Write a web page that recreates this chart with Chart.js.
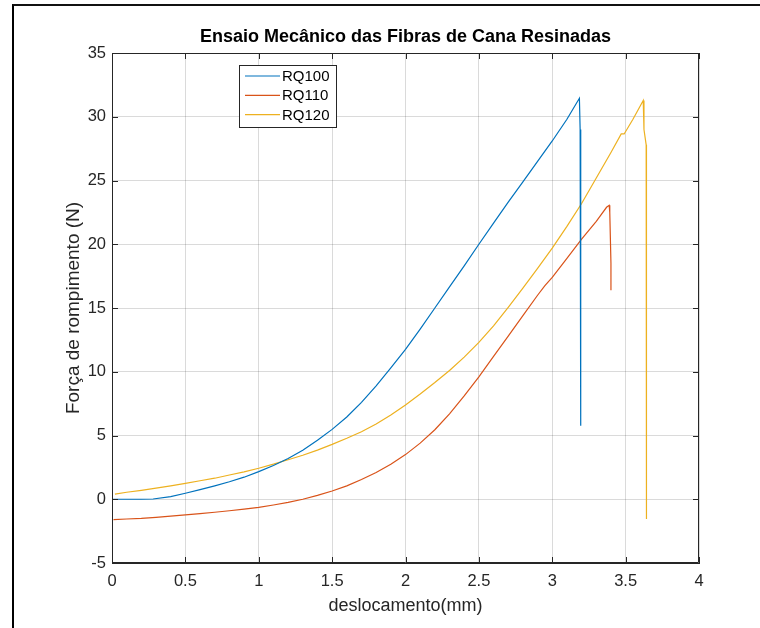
<!DOCTYPE html>
<html lang="pt">
<head>
    <meta charset="UTF-8">
    <title>Ensaio Mecânico das Fibras de Cana Resinadas</title>
    <style>
        html, body { margin: 0; padding: 0; background: #fff; }
        #wrap { position: relative; width: 760px; height: 628px; }
        #frame {
            position: absolute; left: 12px; top: 4px; right: 0; bottom: -4px;
            border-left: 2px solid #000; border-top: 2px solid #111;
            pointer-events: none;
        }
    </style>
</head>
<body>
    <div id="wrap">
        <canvas id="chart" width="760" height="628"></canvas>
        <div id="frame"></div>
    </div>

    <script src="https://cdn.jsdelivr.net/npm/chart.js"></script>
    <script>
        // data (deslocamento in mm, força in N)
        const chartTitle = 'Ensaio Mecânico das Fibras de Cana Resinadas';
        const seriesNames = ['RQ100', 'RQ110', 'RQ120'];

        const rq100X = [0, 0.1, 0.2, 0.28, 0.4, 0.5, 0.6, 0.7, 0.8, 0.9, 1.0, 1.1, 1.2, 1.3, 1.4, 1.5, 1.6, 1.7, 1.8, 1.9,
            2.0, 2.1, 2.2, 2.3, 2.4, 2.5, 2.6, 2.7, 2.8, 2.9, 3.0, 3.1, 3.185, 3.19, 3.194];
        const rq100Y = [0, 0, 0, 0.02, 0.2, 0.47, 0.75, 1.05, 1.37, 1.73, 2.17, 2.65, 3.2, 3.85, 4.62, 5.48, 6.45, 7.6, 8.9, 10.3,
            11.76, 13.35, 15.0, 16.65, 18.3, 20.0, 21.65, 23.3, 24.9, 26.5, 28.1, 29.8, 31.45, 29.0, 5.77];

        const rq110X = [0.01, 0.1, 0.2, 0.3, 0.4, 0.5, 0.6, 0.7, 0.8, 0.9, 1.0, 1.1, 1.2, 1.3, 1.4, 1.5, 1.6, 1.7, 1.8, 1.9,
            2.0, 2.1, 2.2, 2.3, 2.4, 2.5, 2.6, 2.7, 2.8, 2.9, 2.95, 3.0, 3.1, 3.2, 3.3, 3.37, 3.388, 3.392, 3.4, 3.4];
        const rq110Y = [-1.6, -1.55, -1.5, -1.42, -1.33, -1.23, -1.13, -1.02, -0.9, -0.77, -0.63, -0.45, -0.25, 0.0, 0.3, 0.65, 1.05, 1.55, 2.1, 2.75,
            3.5, 4.4, 5.45, 6.7, 8.1, 9.6, 11.2, 12.8, 14.4, 16.0, 16.75, 17.4, 18.9, 20.4, 21.8, 22.9, 23.05, 22.5, 18.5, 16.4];

        const rq120X = [0.02, 0.1, 0.2, 0.3, 0.4, 0.5, 0.6, 0.7, 0.8, 0.9, 1.0, 1.1, 1.2, 1.3, 1.4, 1.5, 1.6, 1.7, 1.8, 1.9,
            2.0, 2.1, 2.2, 2.3, 2.4, 2.5, 2.6, 2.7, 2.8, 2.9, 3.0, 3.1, 3.2, 3.3, 3.4, 3.47, 3.49, 3.55, 3.62, 3.625, 3.64, 3.642];
        const rq120Y = [0.4, 0.55, 0.7, 0.87, 1.05, 1.25, 1.45, 1.65, 1.9, 2.15, 2.43, 2.75, 3.1, 3.45, 3.85, 4.3, 4.78, 5.3, 5.9, 6.6,
            7.4, 8.25, 9.15, 10.1, 11.15, 12.3, 13.6, 15.05, 16.55, 18.1, 19.7, 21.4, 23.2, 25.2, 27.2, 28.65, 28.65, 29.8, 31.27, 29.0, 27.8, -1.55];

        const xTicks = [0, 0.5, 1, 1.5, 2, 2.5, 3, 3.5, 4];
        const yTicks = [-5, 0, 5, 10, 15, 20, 25, 30, 35];

        const colors = ['#0072BD', '#D95319', '#EDB120'];

        const toPoints = (xs, ys) => xs.map((x, i) => ({ x: x, y: ys[i] }));

        const FONT = "'Liberation Sans', Arial, Helvetica, sans-serif";
        Chart.defaults.font.family = FONT;
        Chart.defaults.color = '#262626';

        // title centred over the axes, not over the whole canvas
        const axesTitle = {
            id: 'axesTitle',
            afterDraw(chart) {
                const { ctx, chartArea: a } = chart;
                ctx.save();
                ctx.font = 'bold 18px ' + FONT;
                ctx.fillStyle = '#000';
                ctx.textAlign = 'center';
                ctx.textBaseline = 'middle';
                ctx.fillText(chartTitle, (a.left + a.right) / 2, a.top - 16);
                ctx.restore();
            }
        };

        // axes box with inward ticks, like matlab
        const axesBox = {
            id: 'axesBox',
            afterDatasetsDraw(chart) {
                const { ctx, chartArea: a, scales } = chart;
                const len = 6;
                ctx.save();
                ctx.strokeStyle = '#262626';
                ctx.lineWidth = 1;
                ctx.beginPath();
                ctx.rect(a.left + 0.5, a.top + 0.5, a.right - a.left - 1, a.bottom - a.top - 1);
                xTicks.forEach(v => {
                    const px = Math.round(scales.x.getPixelForValue(v)) + 0.5;
                    ctx.moveTo(px, a.bottom); ctx.lineTo(px, a.bottom - len);
                    ctx.moveTo(px, a.top); ctx.lineTo(px, a.top + len);
                });
                yTicks.forEach(v => {
                    const py = Math.round(scales.y.getPixelForValue(v)) + 0.5;
                    ctx.moveTo(a.left, py); ctx.lineTo(a.left + len, py);
                    ctx.moveTo(a.right, py); ctx.lineTo(a.right - len, py);
                });
                ctx.stroke();
                ctx.restore();
            }
        };

        // legend box inside the axes
        const insideLegend = {
            id: 'insideLegend',
            afterDraw(chart) {
                const { ctx, chartArea: a } = chart;
                const left = a.left + 127, top = a.top + 12;
                const w = 97, h = 62;
                ctx.save();
                ctx.fillStyle = '#fff';
                ctx.fillRect(left, top, w, h);
                ctx.strokeStyle = '#262626';
                ctx.lineWidth = 1;
                ctx.strokeRect(left + 0.5, top + 0.5, w, h);
                ctx.font = '15px ' + FONT;
                ctx.textBaseline = 'middle';
                ctx.textAlign = 'left';
                seriesNames.forEach((name, i) => {
                    const y = top + 11 + i * 19.3;
                    ctx.strokeStyle = colors[i];
                    ctx.lineWidth = 1.2;
                    ctx.beginPath();
                    ctx.moveTo(left + 6, y);
                    ctx.lineTo(left + 41, y);
                    ctx.stroke();
                    ctx.fillStyle = '#000';
                    ctx.fillText(name, left + 43, y + 1);
                });
                ctx.restore();
            }
        };

        const makeDataset = (label, xs, ys, color) => ({
            label: label,
            data: toPoints(xs, ys),
            showLine: true,
            borderColor: color,
            backgroundColor: color,
            borderWidth: 1.2,
            pointRadius: 0,
            tension: 0,
            fill: false,
        });

        const gridColor = 'rgba(38,38,38,0.17)';

        const ctx = document.getElementById('chart').getContext('2d');
        const chart = new Chart(ctx, {
            type: 'scatter',
            data: {
                datasets: [
                    makeDataset(seriesNames[0], rq100X, rq100Y, colors[0]),
                    makeDataset(seriesNames[1], rq110X, rq110Y, colors[1]),
                    makeDataset(seriesNames[2], rq120X, rq120Y, colors[2]),
                ],
            },
            options: {
                responsive: false,
                animation: false,
                devicePixelRatio: 1,
                layout: { padding: { left: 0, top: 53, right: 61, bottom: 0 } },
                plugins: {
                    legend: { display: false },
                    tooltip: { enabled: false },
                    title: { display: false },
                },
                scales: {
                    x: {
                        type: 'linear',
                        min: 0,
                        max: 4,
                        afterBuildTicks: s => { s.ticks = xTicks.map(v => ({ value: v })); },
                        afterFit: s => { s.height = 65; },
                        grid: { color: gridColor, lineWidth: 1, drawTicks: false },
                        border: { display: true, color: '#262626', width: 1 },
                        ticks: { font: { size: 16.5 }, padding: 9, maxRotation: 0, callback: v => String(v) },
                        title: {
                            display: true,
                            text: 'deslocamento(mm)',
                            font: { size: 18, lineHeight: 1.2 },
                            padding: { top: 0, bottom: 11 },
                        },
                    },
                    y: {
                        type: 'linear',
                        min: -5,
                        max: 35,
                        afterBuildTicks: s => { s.ticks = yTicks.map(v => ({ value: v })); },
                        afterFit: s => { s.width = 112; },
                        grid: { color: gridColor, lineWidth: 1, drawTicks: false },
                        border: { display: true, color: '#262626', width: 1 },
                        ticks: { font: { size: 16.5 }, padding: 6, callback: v => String(v) },
                        title: {
                            display: true,
                            text: 'Força de rompimento (N)',
                            font: { size: 19, lineHeight: 1.2 },
                            padding: { top: 62, bottom: 0 },
                        },
                    },
                },
            },
            plugins: [axesBox, insideLegend, axesTitle],
        });
    </script>
</body>
</html>
